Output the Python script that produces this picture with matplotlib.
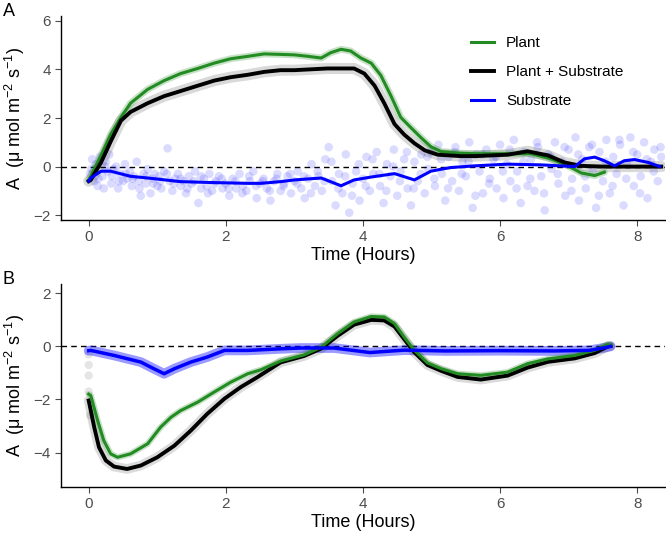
import numpy as np
import matplotlib.pyplot as plt

# Panel A: net assimilation during the light period
a_plant_t = [0.0, 0.03, 0.18, 0.32, 0.47, 0.61, 0.86, 1.1, 1.34, 1.59, 1.83, 2.07, 2.32, 2.56, 2.8, 3.0, 3.2, 3.39, 3.53, 3.68,
             3.82, 3.97, 4.12, 4.26, 4.41, 4.55, 4.7, 4.85, 4.99, 5.14, 5.43, 5.63, 6.11, 6.45, 6.74, 6.99, 7.18, 7.38, 7.52]
a_plant = [-0.55, -0.4, 0.46, 1.32, 2.03, 2.61, 3.18, 3.54, 3.83, 4.04, 4.26, 4.44, 4.54, 4.64, 4.62, 4.6, 4.54, 4.47, 4.69, 4.83,
           4.76, 4.47, 4.26, 3.76, 2.9, 2.03, 1.6, 1.18, 0.82, 0.62, 0.55, 0.53, 0.53, 0.53, 0.32, 0.03, -0.26, -0.37, -0.23]

a_both_t = [0.0, 0.03, 0.18, 0.32, 0.47, 0.61, 0.86, 1.1, 1.34, 1.59, 1.83, 2.07, 2.32, 2.56, 2.8, 3.0, 3.48, 3.87, 4.02, 4.17,
            4.31, 4.46, 4.6, 4.75, 4.9, 5.09, 5.43, 5.63, 6.11, 6.4, 6.7, 6.94, 7.18, 7.5, 8.0, 8.35]
a_both = [-0.6, -0.55, 0.17, 1.03, 1.89, 2.25, 2.61, 2.9, 3.11, 3.33, 3.54, 3.68, 3.78, 3.9, 3.97, 3.97, 4.04, 4.04, 3.83, 3.33,
          2.61, 1.75, 1.32, 0.96, 0.67, 0.49, 0.43, 0.43, 0.49, 0.63, 0.46, 0.17, 0.03, 0.0, 0.0, 0.0]

a_sub_t = [0.0, 0.03, 0.18, 0.32, 0.61, 0.86, 1.34, 1.83, 2.32, 2.51, 2.8, 3.0, 3.39, 3.68, 3.87, 4.12, 4.46, 4.75, 4.99, 5.14,
           5.28, 5.63, 6.11, 6.6, 7.09, 7.23, 7.38, 7.52, 7.67, 7.81, 7.96, 8.16, 8.33]
a_sub = [-0.6, -0.47, -0.19, -0.19, -0.4, -0.47, -0.62, -0.66, -0.69, -0.69, -0.62, -0.55, -0.47, -0.79, -0.55, -0.43, -0.29, -0.55, -0.19, -0.11,
         -0.04, 0.03, 0.1, 0.07, 0.0, 0.32, 0.39, 0.24, 0.03, 0.24, 0.29, 0.17, 0.0]

# raw substrate readings (panel A scatter)
a_pts_t = [0.02, 0.05, 0.08, 0.1, 0.13, 0.16, 0.2, 0.22, 0.25, 0.28, 0.3, 0.33, 0.36, 0.4, 0.43, 0.46, 0.5, 0.53, 0.56, 0.6,
           0.63, 0.66, 0.7, 0.73, 0.76, 0.8, 0.83, 0.86, 0.9, 0.93, 0.96, 1.0, 1.03, 1.06, 1.1, 1.15, 1.18, 1.22, 1.26, 1.3,
           1.34, 1.38, 1.42, 1.46, 1.5, 1.55, 1.6, 1.64, 1.68, 1.72, 1.76, 1.8, 1.85, 1.9, 1.95, 2.0, 2.05, 2.1, 2.15, 2.2,
           2.25, 2.3, 2.35, 2.4, 2.45, 2.5, 2.55, 2.6, 2.65, 2.7, 2.75, 2.8, 2.85, 2.9, 2.95, 3.0, 3.05, 3.1, 3.15, 3.2,
           3.25, 3.3, 3.35, 3.4, 3.45, 3.5, 3.55, 3.6, 3.65, 3.7, 3.75, 3.8, 3.85, 3.9, 3.95, 4.0, 4.05, 4.1, 4.15, 4.2,
           4.25, 4.3, 4.35, 4.4, 4.45, 4.5, 4.55, 4.6, 4.65, 4.7, 4.75, 4.8, 4.85, 4.9, 4.95, 5.0, 5.05, 5.1, 5.15, 5.2,
           5.25, 5.3, 5.35, 5.4, 5.45, 5.5, 5.55, 5.6, 5.65, 5.7, 5.75, 5.8, 5.85, 5.9, 5.95, 6.0, 6.05, 6.1, 6.15, 6.2,
           6.25, 6.3, 6.35, 6.4, 6.45, 6.5, 6.55, 6.6, 6.65, 6.7, 6.75, 6.8, 6.85, 6.9, 6.95, 7.0, 7.05, 7.1, 7.15, 7.2,
           7.25, 7.3, 7.35, 7.4, 7.45, 7.5, 7.55, 7.6, 7.65, 7.7, 7.75, 7.8, 7.85, 7.9, 7.95, 8.0, 8.05, 8.1, 8.15, 8.2,
           8.25, 8.3, 8.35,
           0.04, 0.14, 0.24, 0.34, 0.44, 0.54, 0.64, 0.74, 0.84, 0.94, 1.04, 1.14, 1.24, 1.34, 1.44, 1.54, 1.64, 1.74, 1.84, 1.94,
           2.04, 2.14, 2.24, 2.34, 2.44, 2.54, 2.64, 2.74, 2.84, 2.94, 3.04, 3.14, 3.24, 3.34, 3.44, 3.54, 3.64, 3.74, 3.84, 3.94,
           4.04, 4.14, 4.24, 4.34, 4.44, 4.54, 4.64, 4.74, 4.84, 4.94, 5.04, 5.14, 5.24, 5.34, 5.44, 5.54, 5.64, 5.74, 5.84, 5.94,
           6.04, 6.14, 6.24, 6.34, 6.44, 6.54, 6.64, 6.74, 6.84, 6.94, 7.04, 7.14, 7.24, 7.34, 7.44, 7.54, 7.64, 7.74, 7.84, 7.94,
           8.04, 8.14, 8.24, 8.34]
a_pts = [-0.3, 0.3, -0.6, 0.1, -0.8, 0.4, -0.4, -0.9, 0.2, -0.2, 0.5, -0.7, -0.1, 0.0, -0.9, -0.3, -0.6, 0.1, -0.5, -0.2,
         -0.8, -0.4, 0.2, -0.6, -1.2, -0.3, -0.7, -0.1, -1.1, -0.5, -0.3, -0.8, -0.4, -0.9, -0.2, 0.75, -0.6, -1.0, -0.5, -0.3,
         -0.8, -0.6, -1.1, -0.4, -0.7, -0.2, -1.5, -0.9, -0.5, -0.8, -0.3, -1.0, -0.6, -0.4, -0.9, -0.7, -1.2, -0.5, -0.9, -0.3,
         -0.8, -1.0, -0.6, -0.2, -1.3, -0.7, -0.5, -0.9, -1.4, -0.6, -0.3, -1.0, -0.7, -0.4, -1.1, -0.6, -0.2, -0.9, -1.3, -0.5,
         0.1, -0.8, -0.4, -1.0, 0.3, 0.8, -0.6, -1.6, -0.3, -1.1, 0.5, -1.9, -0.7, -0.2, -1.4, -0.5, 0.4, -1.0, -0.3, 0.6,
         -0.8, -1.5, 0.1, -0.4, 0.7, -1.2, -0.2, 0.3, -0.9, -1.6, 0.2, -0.6, 0.5, -1.1, -0.1, 0.6, -0.8, 0.9, -0.3, -1.4,
         0.4, -0.6, 0.8, -1.0, 0.2, -0.4, 1.0, -1.7, 0.5, -0.2, -1.1, 0.7, -0.5, 0.3, -0.9, 0.9, -1.3, 0.1, -0.6, 1.1,
         -0.2, -1.5, 0.6, -0.8, 0.3, -1.0, 0.8, -0.4, -1.8, 0.5, -0.1, 1.0, -0.7, 0.2, -1.2, 0.7, -0.5, 1.2, -1.4, 0.3,
         -0.9, 0.8, -0.2, -1.7, 0.6, -0.6, 1.1, -1.1, 0.4, -0.3, 0.9, -1.6, 0.1, 1.2, -0.8, 0.5, -0.4, 1.0, -1.3, 0.2,
         0.7, -0.6, 0.4,
         -0.1, -0.5, 0.0, -0.4, -0.6, -0.3, -0.5, -0.9, -0.4, -0.7, -0.6, -0.3, -0.7, -0.5, -0.9, -0.6, -0.4, -1.1, -0.7, -0.5,
         -0.9, -0.6, -1.1, -0.4, -0.8, -0.6, -1.0, -0.5, -0.8, -0.3, -0.7, -0.4, -1.1, -0.2, -0.6, 0.2, -0.9, -0.4, -1.2, 0.1,
         -0.8, 0.3, -0.3, -1.0, 0.0, -0.6, 0.6, -0.9, -0.3, 0.4, -0.5, 0.3, -0.9, 0.6, -0.3, 0.2, -1.2, 0.5, -0.7, 0.4,
         -0.2, 0.7, -0.9, 0.2, -0.5, 1.0, -1.1, 0.4, -0.3, 0.8, -1.0, 0.5, -0.4, 0.9, -1.2, 0.2, -0.8, 1.1, -0.5, 0.6,
         -1.1, 0.3, -0.2, 0.8]

# Panel B: dark period
b_plant_t = [0.0, 0.03, 0.13, 0.22, 0.32, 0.42, 0.61, 0.86, 1.05, 1.2, 1.34, 1.59, 1.83, 2.07, 2.32, 2.51, 2.8, 3.14, 3.39, 3.63,
             3.87, 4.12, 4.31, 4.46, 4.6, 4.75, 4.94, 5.14, 5.38, 5.72, 6.11, 6.4, 6.7, 7.09, 7.38, 7.57, 7.61]
b_plant = [-1.8, -1.85, -2.79, -3.55, -4.05, -4.18, -4.05, -3.67, -3.04, -2.67, -2.42, -2.1, -1.72, -1.35, -1.03, -0.88, -0.55, -0.32, -0.03, 0.48,
           0.92, 1.13, 1.11, 0.86, 0.35, -0.15, -0.62, -0.84, -1.03, -1.09, -0.97, -0.65, -0.47, -0.34, -0.15, 0.08, 0.05]

b_both_t = [0.0, 0.08, 0.15, 0.25, 0.37, 0.56, 0.76, 1.0, 1.25, 1.49, 1.73, 1.98, 2.22, 2.46, 2.8, 3.14, 3.39, 3.63, 3.87, 4.12,
            4.31, 4.46, 4.6, 4.75, 4.94, 5.14, 5.38, 5.72, 6.11, 6.4, 6.7, 7.09, 7.38, 7.57, 7.61]
b_both = [-2.04, -3.04, -3.8, -4.3, -4.53, -4.62, -4.49, -4.18, -3.74, -3.17, -2.54, -1.97, -1.53, -1.16, -0.6, -0.36, -0.08, 0.4,
          0.82, 1.0, 0.98, 0.75, 0.28, -0.22, -0.7, -0.92, -1.15, -1.25, -1.1, -0.8, -0.58, -0.45, -0.25, 0.0, 0.02]

b_sub_t = [0.0, 0.03, 0.37, 0.76, 0.95, 1.1, 1.25, 1.49, 1.73, 1.98, 2.32, 2.8, 3.09, 3.58, 4.1, 4.6, 5.2, 6.0, 6.8, 7.3, 7.5, 7.61]
b_sub = [-0.16, -0.15, -0.34, -0.59, -0.84, -1.03, -0.84, -0.59, -0.4, -0.15, -0.15, -0.09, -0.06, -0.06, -0.23, -0.14, -0.17, -0.16, -0.17, -0.15, -0.06, 0.0]

# early dark-period readings that sit away from the curve
b_pts_t = [0.0, 0.0, 0.0, 0.0, 0.02]
b_pts = [-0.3, -0.7, -1.1, -1.7, -2.6]

green = '#228B22'
blue = '#0000FF'
tick_grey = '#4D4D4D'

plt.rcParams['font.family'] = ['Liberation Sans', 'DejaVu Sans']
plt.rcParams['mathtext.default'] = 'regular'

fig = plt.figure(figsize=(6.66, 5.34), dpi=100)
ax_a = fig.add_axes([0.092, 0.588, 0.906, 0.382])
ax_b = fig.add_axes([0.092, 0.088, 0.906, 0.380])

ylab = 'A  (\u03bc mol m$^{-2}$ s$^{-1}$)'


def style_axis(ax, ylim, yticks):
    ax.set_xlim(-0.4, 8.4)
    ax.set_ylim(*ylim)
    ax.set_xticks([0, 2, 4, 6, 8])
    ax.set_yticks(yticks)
    ax.set_yticklabels([str(v).replace('-', '\u2212') for v in yticks])
    for side in ['top', 'right']:
        ax.spines[side].set_visible(False)
    for side in ['left', 'bottom']:
        ax.spines[side].set_linewidth(1.0)
    ax.tick_params(colors=tick_grey, labelsize=11, length=4, width=0.8)
    ax.axhline(0, color='black', linestyle=(0, (4, 3)), linewidth=1.0, zorder=1)
    ax.set_xlabel('Time (Hours)', fontsize=13, labelpad=2)
    ax.set_ylabel(ylab, fontsize=13, labelpad=5)


# ---- panel A ----
ax_a.scatter(a_pts_t, a_pts, s=38, color=blue, alpha=0.14, edgecolors='none', zorder=2)
ax_a.plot(a_both_t, a_both, color='black', linewidth=8, alpha=0.15, solid_capstyle='round', solid_joinstyle='round', zorder=3)
ax_a.plot(a_plant_t, a_plant, color=green, linewidth=5, alpha=0.25, solid_capstyle='round', solid_joinstyle='round', zorder=4)
l1, = ax_a.plot(a_plant_t, a_plant, color=green, linewidth=2.2, solid_joinstyle='round', zorder=5, label='Plant')
l2, = ax_a.plot(a_both_t, a_both, color='black', linewidth=2.8, solid_joinstyle='round', zorder=5, label='Plant + Substrate')
l3, = ax_a.plot(a_sub_t, a_sub, color=blue, linewidth=2.2, solid_joinstyle='round', zorder=6, label='Substrate')
style_axis(ax_a, (-2.2, 6.2), [-2, 0, 2, 4, 6])
ax_a.legend(handles=[l1, l2, l3], loc='upper left', bbox_to_anchor=(0.656, 0.97), frameon=False,
            fontsize=11, handlelength=1.5, labelspacing=1.0, handletextpad=0.8)

# ---- panel B ----
ax_b.scatter(b_pts_t, b_pts, s=36, color='black', alpha=0.1, edgecolors='none', zorder=2)
ax_b.plot(b_sub_t, b_sub, color=blue, linewidth=7, alpha=0.4, solid_capstyle='round', solid_joinstyle='round', zorder=3)
ax_b.plot(b_both_t, b_both, color='black', linewidth=7, alpha=0.14, solid_capstyle='round', solid_joinstyle='round', zorder=3)
ax_b.plot(b_plant_t, b_plant, color=green, linewidth=4.5, alpha=0.25, solid_capstyle='round', solid_joinstyle='round', zorder=4)
ax_b.plot(b_both_t, b_both, color='black', linewidth=2.8, solid_joinstyle='round', zorder=5)
ax_b.plot(b_plant_t, b_plant, color=green, linewidth=2.2, solid_joinstyle='round', zorder=6)
ax_b.plot(b_sub_t, b_sub, color=blue, linewidth=2.5, solid_joinstyle='round', zorder=6)
style_axis(ax_b, (-5.3, 2.35), [-4, -2, 0, 2])

fig.text(0.004, 0.995, 'A', fontsize=13, va='top', ha='left')
fig.text(0.004, 0.492, 'B', fontsize=13, va='top', ha='left')

fig.savefig('out.png', dpi=100)
